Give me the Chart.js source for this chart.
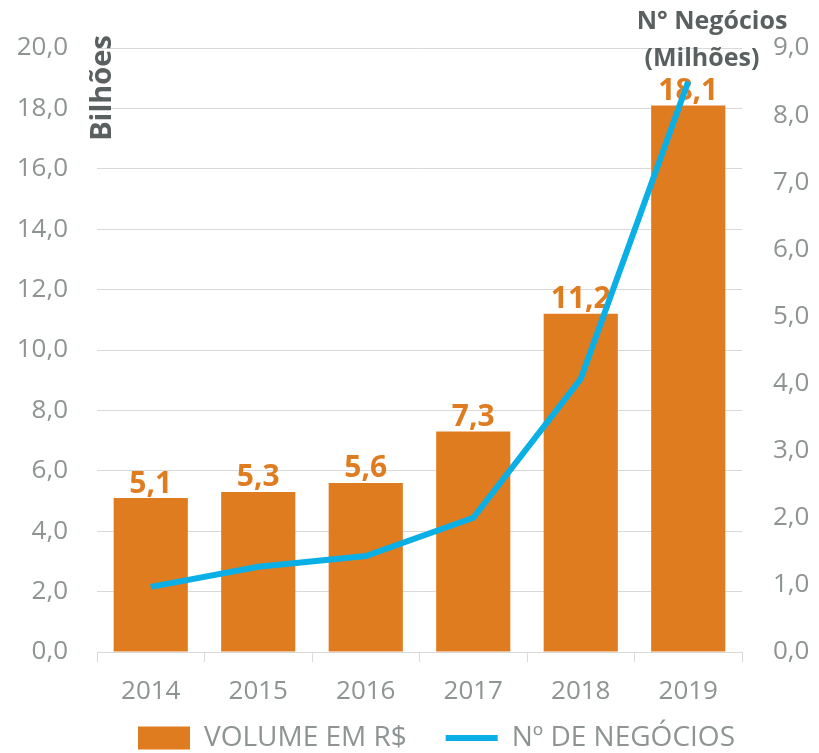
<!DOCTYPE html>
<html>
<head>
<meta charset="utf-8">
<script src="https://cdn.jsdelivr.net/npm/chart.js@4.4.1/dist/chart.umd.min.js"></script>
<style>
  html, body { margin: 0; padding: 0; background: #fff; }
  #wrap { width: 819px; height: 753px; }
</style>
</head>
<body>
<div id="wrap"><canvas id="negociosChart"></canvas></div>
<script>
// chart data
const categories = ["2014", "2015", "2016", "2017", "2018", "2019"];
const volume = [5.1, 5.3, 5.6, 7.3, 11.2, 18.1];
const negocios = [0.97, 1.27, 1.43, 2.0, 4.07, 8.5];
const leftTicks = [0, 2, 4, 6, 8, 10, 12, 14, 16, 18, 20];
const rightTicks = [0, 1, 2, 3, 4, 5, 6, 7, 8, 9];

const ORANGE = "#E07C20";
const BLUE = "#0AAFE6";
const GRAY = "#8E9393";
const DARK = "#5A5F5F";
const FONT = "'Open Sans', 'Noto Sans', sans-serif";

const fmt = (v) => v.toFixed(1).replace(".", ",");

// values above the bars, drawn before the line so the line stays on top
const barLabels = {
  id: "barLabels",
  afterDatasetDraw(chart, args) {
    if (args.index !== 0) return;
    const ctx = chart.ctx;
    ctx.save();
    ctx.font = "bold 30px " + FONT;
    ctx.fillStyle = ORANGE;
    ctx.textAlign = "center";
    ctx.textBaseline = "bottom";
    args.meta.data.forEach((bar, i) => {
      ctx.fillText(fmt(volume[i]), bar.x, bar.y + 1);
    });
    ctx.restore();
  },
};

// axis titles
const axisTitles = {
  id: "axisTitles",
  afterDraw(chart) {
    const ctx = chart.ctx;
    ctx.save();
    ctx.fillStyle = DARK;
    ctx.font = "bold 29px " + FONT;
    ctx.textAlign = "center";
    ctx.textBaseline = "middle";
    ctx.save();
    ctx.translate(103, 88);
    ctx.rotate(-Math.PI / 2);
    ctx.fillText("Bilhões", 0, 0);
    ctx.restore();
    ctx.font = "bold 25px " + FONT;
    ctx.fillText("N° Negócios", 712, 22);
    ctx.fillText("(Milhões)", 702, 59);
    ctx.restore();
  },
};

// legend sits a bit right of centre in the original
const legendShift = {
  id: "legendShift",
  afterLayout(chart) {
    chart.legend.left += 27;
    chart.legend.right += 27;
  },
};

new Chart(document.getElementById("negociosChart"), {
  type: "bar",
  data: {
    labels: categories,
    datasets: [
      {
        type: "bar",
        label: "VOLUME EM R$",
        data: volume,
        backgroundColor: ORANGE,
        borderWidth: 0,
        barPercentage: 0.69,
        categoryPercentage: 1,
        yAxisID: "y",
        order: 1,
      },
      {
        type: "line",
        label: "Nº DE NEGÓCIOS",
        data: negocios,
        borderColor: BLUE,
        backgroundColor: BLUE,
        borderWidth: 6,
        pointRadius: 0,
        tension: 0,
        yAxisID: "y1",
        order: 0,
      },
    ],
  },
  options: {
    responsive: true,
    maintainAspectRatio: false,
    animation: false,
    layout: { padding: { top: 48, bottom: 0, left: 0, right: 0 } },
    plugins: {
      tooltip: { enabled: false },
      legend: {
        position: "bottom",
        maxHeight: 46,
        labels: {
          usePointStyle: true,
          pointStyleWidth: 52,
          boxHeight: 23,
          padding: 17,
          color: GRAY,
          font: { family: FONT, size: 28 },
          generateLabels(chart) {
            return chart.data.datasets.map((ds, i) => ({
              // trailing spaces widen the gap between the two entries
              text: i === 0 ? ds.label + "   " : ds.label,
              fillStyle: ds.backgroundColor,
              strokeStyle: ds.type === "line" ? ds.borderColor : ds.backgroundColor,
              lineWidth: ds.type === "line" ? 6 : 0,
              pointStyle: ds.type === "line" ? "line" : "rect",
              fontColor: GRAY,
              datasetIndex: i,
              hidden: false,
            }));
          },
        },
      },
    },
    scales: {
      x: {
        grid: {
          offset: true,
          drawOnChartArea: false,
          drawTicks: true,
          tickLength: 10,
          color: "#D9D9D9",
        },
        border: { color: "#D9D9D9" },
        ticks: { color: GRAY, font: { family: FONT, size: 26 }, padding: 14 },
        afterFit(scale) { scale.height = 55; },
      },
      y: {
        position: "left",
        min: 0,
        max: 20,
        afterBuildTicks(scale) { scale.ticks = leftTicks.map((v) => ({ value: v })); },
        grid: { color: "#D9D9D9", drawTicks: false },
        border: { display: false },
        ticks: {
          color: GRAY,
          font: { family: FONT, size: 26 },
          padding: 29,
          callback: (v) => fmt(v),
        },
        afterFit(scale) { scale.width = 97; },
      },
      y1: {
        position: "right",
        min: 0,
        max: 9,
        afterBuildTicks(scale) { scale.ticks = rightTicks.map((v) => ({ value: v })); },
        grid: { drawOnChartArea: false, drawTicks: false },
        border: { display: false },
        ticks: {
          color: GRAY,
          font: { family: FONT, size: 26 },
          padding: 31,
          callback: (v) => fmt(v),
        },
        afterFit(scale) { scale.width = 77; },
      },
    },
  },
  plugins: [barLabels, axisTitles, legendShift],
});
</script>
</body>
</html>
